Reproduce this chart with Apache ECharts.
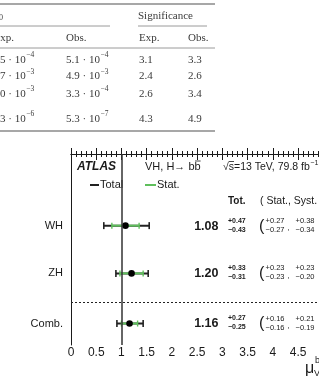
<!DOCTYPE html>
<html><head><meta charset="utf-8">
<script src="https://cdn.jsdelivr.net/npm/echarts@6/dist/echarts.min.js"></script>
<style>html,body{margin:0;padding:0;background:#fff}#c{width:319px;height:376px}</style>
</head><body><div id="c"></div>
<script>
// ---- chart data ----
const rows = ['WH', 'ZH', 'Comb.'];
const rowPos = [1.5, 2.5, 3.55];
const mu = [1.08, 1.20, 1.16];
const totUp = [0.47, 0.33, 0.27];
const totDn = [0.43, 0.31, 0.25];
const statUp = [0.27, 0.23, 0.16];
const statDn = [0.27, 0.23, 0.16];
const systUp = [0.38, 0.23, 0.21];
const systDn = [0.34, 0.20, 0.19];
const separatorPos = 3.1;
const refLine = 1;

// ---- table data ----
const p0ExpMant = ['5', '7', '0', '3'];
const p0ExpPow = [-4, -3, -3, -6];
const p0ObsMant = ['5.1', '4.9', '3.3', '5.3'];
const p0ObsPow = [-4, -3, -4, -7];
const sigExp = ['3.1', '2.4', '2.6', '4.3'];
const sigObs = ['3.3', '2.6', '3.4', '4.9'];

const SANS = '"Liberation Sans", Arial, sans-serif';
const SERIF = '"Liberation Serif", "Times New Roman", serif';
const GREEN = '#5fbf5c';
const INK = '#1a1a1a';
const TCOL = '#3a3a3a';

const mctx = document.createElement('canvas').getContext('2d');
function tw(text, font) { mctx.font = font; return mctx.measureText(text).width; }
function fmt(v) { return v.toFixed(2); }

const g = [];
function T(text, x, y, font, fill, align, valign) {
  g.push({type: 'text', silent: true, style: {text: text, x: x, y: y, font: font, fill: fill || INK,
    align: align || 'left', textAlign: align || 'left',
    verticalAlign: valign || 'middle', textVerticalAlign: valign || 'middle'}});
}
function L(x1, y1, x2, y2, stroke, w, dash) {
  g.push({type: 'line', silent: true, shape: {x1: x1, y1: y1, x2: x2, y2: y2},
    style: {stroke: stroke, lineWidth: w, lineDash: dash || null}});
}

// ---- table ----
const tf = '11px ' + SERIF;
const sf = '7.5px ' + SERIF;
L(0, 4, 215, 4, '#8a8a8a', 1.5);
T('0', -1, 17.5, '8px ' + SERIF, TCOL);
T('Significance', 138, 16, tf, TCOL);
L(0, 26, 110, 26, '#9a9a9a', 1);
L(138, 26, 207, 26, '#9a9a9a', 1);
T('Exp.', -6.5, 38, tf, TCOL);
T('Obs.', 66, 38, tf, TCOL);
T('Exp.', 139, 38, tf, TCOL);
T('Obs.', 188, 38, tf, TCOL);
L(0, 48, 215, 48, '#9a9a9a', 1);
const rowY = [60, 76.5, 94, 119];
function sciText(mant, pow, x, y) {
  const base = mant + ' \u00b7 10';
  T(base, x, y, tf, TCOL);
  T('\u2212' + Math.abs(pow), x + tw(base, tf) + 0.5, y - 4.5, sf, TCOL);
}
for (let i = 0; i < rowY.length; i++) {
  sciText(p0ExpMant[i], p0ExpPow[i], 0, rowY[i]);
  sciText(p0ObsMant[i], p0ObsPow[i], 66, rowY[i]);
  T(sigExp[i], 139, rowY[i], tf, TCOL);
  T(sigObs[i], 188, rowY[i], tf, TCOL);
}
L(0, 131, 215, 131, '#8a8a8a', 1.5);

// ---- plot header texts ----
T('ATLAS', 77, 167, 'italic bold 12px ' + SANS, INK);
const hf = '11px ' + SANS;
const vhText = 'VH, H\u2192 b';
T(vhText, 145, 167, hf, INK);
const bx = 145 + tw(vhText, hf);
T('b', bx, 167, hf, INK);
L(bx + 0.5, 161, bx + tw('b', hf), 161, INK, 0.8);
const ef = '10.5px ' + SANS;
T('\u221as=13 TeV, 79.8 fb', 223, 167, ef, INK);
const sx = 223 + tw('\u221a', ef);
L(sx, 161.5, sx + tw('s', ef), 161.5, INK, 0.8);
T('\u22121', 223 + tw('\u221as=13 TeV, 79.8 fb', ef) + 0.5, 163, '7px ' + SANS, INK);
// legend
L(90, 185, 99, 185, '#222', 2);
T('Total', 100, 185, hf, INK);
L(145, 185, 156, 185, GREEN, 2);
T('Stat.', 157, 185, hf, INK);
// column header
T('Tot.', 228, 201, 'bold 10px ' + SANS, INK);
T('( Stat., Syst. )', 260, 201, '10.5px ' + SANS, INK);
// x-axis title
T('\u03bc', 305, 369, '16px ' + SANS, INK);
T('bb', 315, 361, '9px ' + SANS, INK);
T('VH', 314, 374, '9px ' + SANS, INK);

// ---- series data ----
const data = rows.map((r, i) => [mu[i], rowPos[i], i]);

const chart = echarts.init(document.getElementById('c'), null, {renderer: 'canvas'});
const axisCommon = {
  type: 'value', min: 0, max: 5.5, interval: 0.5,
  axisLine: {show: true, lineStyle: {color: INK, width: 1}},
  axisTick: {show: true, inside: true, length: 6, lineStyle: {color: INK, width: 1}},
  minorTick: {show: true, splitNumber: 5, length: 3, lineStyle: {color: INK, width: 1}},
  splitLine: {show: false}, minorSplitLine: {show: false}
};
chart.setOption({
  animation: false,
  backgroundColor: '#fff',
  grid: {left: 71, top: 154, width: 277.5, height: 191, containLabel: false, outerBoundsMode: 'none'},
  xAxis: [
    Object.assign({}, axisCommon, {position: 'bottom',
      axisLabel: {show: true, margin: 2, fontSize: 12, fontFamily: SANS, color: INK,
        hideOverlap: false, formatter: v => String(v)}}),
    Object.assign({}, axisCommon, {position: 'top', axisLabel: {show: false}})
  ],
  yAxis: {type: 'value', min: 0, max: 4, inverse: true,
    axisLine: {show: true, lineStyle: {color: INK, width: 1}},
    axisTick: {show: false}, axisLabel: {show: false}, splitLine: {show: false}},
  graphic: {elements: g},
  series: [{
    type: 'custom', clip: false, silent: true,
    data: data,
    markLine: {silent: true, symbol: 'none', label: {show: false}, animation: false,
      data: [
        {xAxis: refLine, lineStyle: {color: '#333', width: 1.5, type: 'solid'}},
        {yAxis: separatorPos, lineStyle: {color: '#222', width: 1, type: [2, 2]}}
      ]},
    renderItem: function (params, api) {
      const i = api.value(2);
      const m = api.value(0), yp = api.value(1);
      const y = api.coord([m, yp])[1];
      const xc = api.coord([m, yp])[0];
      const xlo = api.coord([m - totDn[i], yp])[0];
      const xhi = api.coord([m + totUp[i], yp])[0];
      const slo = api.coord([m - statDn[i], yp])[0];
      const shi = api.coord([m + statUp[i], yp])[0];
      const ln = (x1, y1, x2, y2, c, w) => ({type: 'line', shape: {x1, y1, x2, y2}, style: {stroke: c, lineWidth: w}});
      const tx = (text, x, yy, font, align) => ({type: 'text', style: {text, x, y: yy, font, fill: INK,
        align: align || 'left', textAlign: align || 'left', verticalAlign: 'middle', textVerticalAlign: 'middle'}});
      const small = '7.5px ' + SANS;
      const smallB = 'bold 7px ' + SANS;
      return {type: 'group', children: [
        ln(xlo, y, xhi, y, '#222', 2),
        ln(xlo, y - 3.5, xlo, y + 3.5, '#222', 1.6),
        ln(xhi, y - 3.5, xhi, y + 3.5, '#222', 1.6),
        ln(slo, y, shi, y, GREEN, 2),
        ln(slo, y - 3, slo, y + 3, GREEN, 1.4),
        ln(shi, y - 3, shi, y + 3, GREEN, 1.4),
        {type: 'circle', shape: {cx: xc, cy: y, r: 3.3}, style: {fill: '#000'}},
        tx(rows[i], 63, y, '11px ' + SANS, 'right'),
        tx(fmt(mu[i]), 218.5, y + 0.5, 'bold 12.5px ' + SANS, 'right'),
        tx('+' + fmt(totUp[i]), 228, y - 5, smallB),
        tx('\u2212' + fmt(totDn[i]), 228, y + 4, smallB),
        tx('(', 259, y + 0.5, '16px ' + SANS),
        tx('+' + fmt(statUp[i]), 265.5, y - 5, small),
        tx('\u2212' + fmt(statDn[i]), 265.5, y + 4, small),
        tx(',', 287.5, y + 2, '8px ' + SANS),
        tx('+' + fmt(systUp[i]), 295.5, y - 5, small),
        tx('\u2212' + fmt(systDn[i]), 295.5, y + 4, small)
      ]};
    }
  }]
});
</script>
</body></html>
